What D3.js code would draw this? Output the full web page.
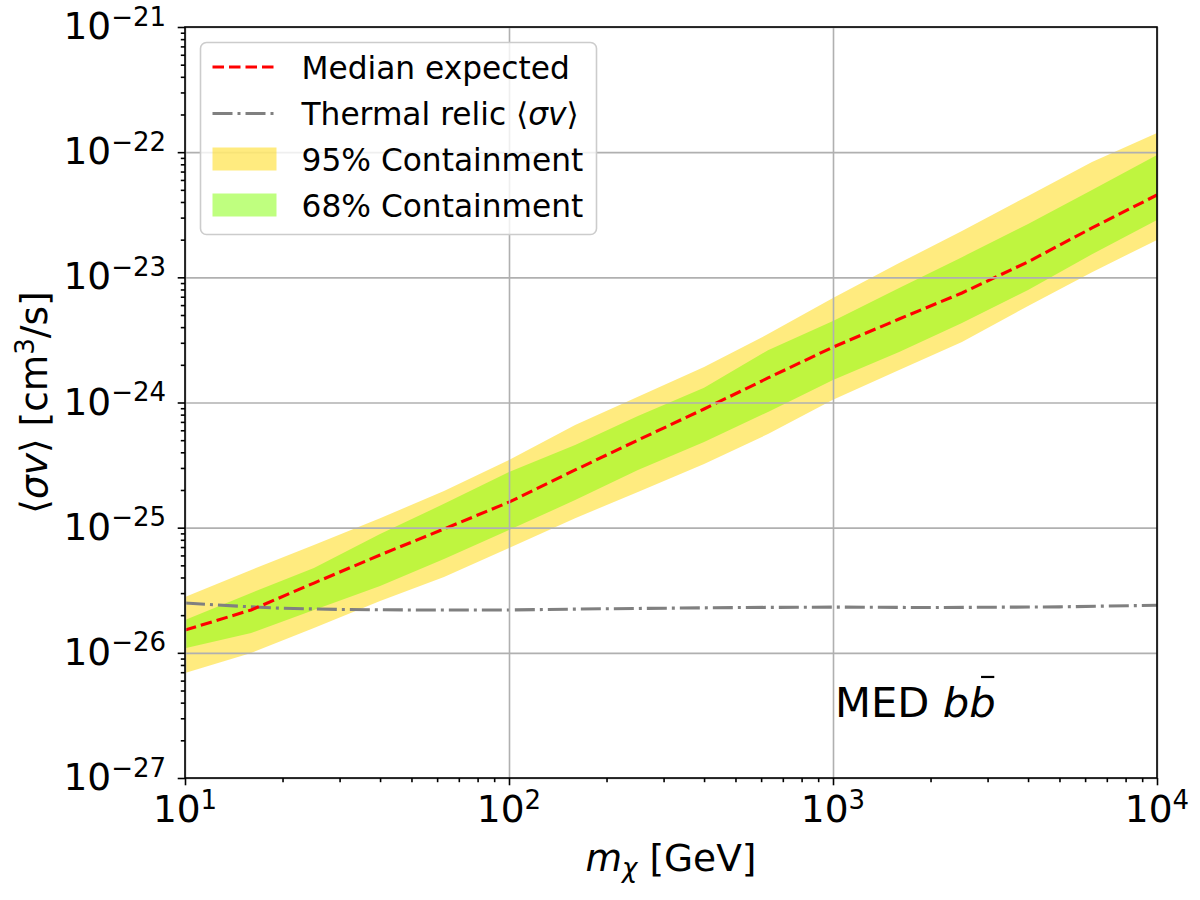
<!DOCTYPE html>
<html>
<head>
<meta charset="utf-8">
<script src="https://cdn.jsdelivr.net/npm/d3@7"></script>
<style>
  body { margin: 0; background: #fff; }
  text { font-family: "DejaVu Sans", sans-serif; }
</style>
</head>
<body>
<div id="chart"></div>
<script>
// ---- data ----
var massGrid = [10, 16, 25, 40, 63, 100, 160, 250, 400, 630, 1000, 1600, 2500, 4000, 6300, 10000];
var median   = [1.52e-26, 2.20e-26, 3.61e-26, 6.05e-26, 9.76e-26, 1.60e-25, 2.89e-25, 5.01e-25, 8.87e-25, 1.57e-24, 2.77e-24, 4.65e-24, 7.50e-24, 1.33e-23, 2.48e-23, 4.55e-23];
var hi95     = [2.79e-26, 4.59e-26, 7.28e-26, 1.19e-25, 1.96e-25, 3.47e-25, 6.61e-25, 1.11e-24, 1.92e-24, 3.52e-24, 6.84e-24, 1.30e-23, 2.34e-23, 4.47e-23, 8.34e-23, 1.42e-22];
var hi68     = [1.83e-26, 3.01e-26, 4.76e-26, 8.91e-26, 1.55e-25, 2.79e-25, 4.58e-25, 7.80e-25, 1.31e-24, 2.62e-24, 4.48e-24, 8.22e-24, 1.45e-23, 2.67e-23, 4.99e-23, 9.48e-23];
var lo68     = [1.09e-26, 1.44e-26, 2.20e-26, 3.42e-26, 5.62e-26, 9.58e-26, 1.66e-25, 2.89e-25, 4.84e-25, 8.40e-25, 1.51e-24, 2.53e-24, 4.32e-24, 7.92e-24, 1.53e-23, 2.87e-23];
var lo95     = [6.90e-27, 9.97e-27, 1.58e-26, 2.60e-26, 4.04e-26, 6.89e-26, 1.19e-25, 1.93e-25, 3.23e-25, 5.60e-25, 1.05e-24, 1.82e-24, 3.04e-24, 5.90e-24, 1.10e-23, 1.99e-23];

var thermalMass = [10, 15, 20, 30, 50, 100, 200, 500, 1000, 2000, 5000, 10000];
var thermalSv   = [2.50e-26, 2.35e-26, 2.27e-26, 2.22e-26, 2.20e-26, 2.20e-26, 2.25e-26, 2.30e-26, 2.32e-26, 2.30e-26, 2.33e-26, 2.40e-26];

var xTicks = [10, 100, 1000, 10000];
var xTickExp = ["1", "2", "3", "4"];
var yTicks = [1e-27, 1e-26, 1e-25, 1e-24, 1e-23, 1e-22, 1e-21];
var yTickExp = ["\u221227", "\u221226", "\u221225", "\u221224", "\u221223", "\u221222", "\u221221"];

var legendLabels = ["Median expected", "Thermal relic", "95% Containment", "68% Containment"];

// ---- layout ----
var margin = { left: 185, right: 43, top: 27, bottom: 122 };
var width = 1200 - margin.left - margin.right,
    height = 900 - margin.top - margin.bottom;
var tickFont = 37.5, supFont = 26, labelFont = 37.5;

var svgRoot = d3.select("#chart").append("svg")
    .attr("width", 1200)
    .attr("height", 900);
var svg = svgRoot.append("g")
    .attr("transform", "translate(" + margin.left + "," + margin.top + ")");

var x = d3.scaleLog().domain([10, 1e4]).range([0, width]);
var y = d3.scaleLog().domain([1e-27, 1e-21]).range([height, 0]);

var yellow = "#FFD700", green = "#7FFF00";

svg.append("clipPath").attr("id", "clip")
  .append("rect").attr("width", width).attr("height", height);

var rows = massGrid.map(function(m, i){
    return { m: m, med: median[i], lo68: lo68[i], hi68: hi68[i], lo95: lo95[i], hi95: hi95[i] };
});

var plot = svg.append("g").attr("clip-path", "url(#clip)");

// containment bands
plot.append("path")
    .datum(rows)
    .attr("fill", yellow).attr("fill-opacity", 0.5)
    .attr("d", d3.area().x(function(d){ return x(d.m); })
        .y0(function(d){ return y(d.lo95); })
        .y1(function(d){ return y(d.hi95); }));
plot.append("path")
    .datum(rows)
    .attr("fill", green).attr("fill-opacity", 0.5)
    .attr("d", d3.area().x(function(d){ return x(d.m); })
        .y0(function(d){ return y(d.lo68); })
        .y1(function(d){ return y(d.hi68); }));

// minor tick positions
var xMinor = [], yMinor = [];
[10, 100, 1000].forEach(function(d){ for (var k = 2; k < 10; k++) xMinor.push(d * k); });
yTicks.slice(0, -1).forEach(function(d){ for (var k = 2; k < 10; k++) yMinor.push(d * k); });

// grid
var gridX = svg.append("g")
    .attr("transform", "translate(0," + height + ")")
    .call(d3.axisBottom(x).tickValues(xTicks).tickSize(-height).tickFormat(""));
var gridY = svg.append("g")
    .call(d3.axisLeft(y).tickValues(yTicks).tickSize(-width).tickFormat(""));
[gridX, gridY].forEach(function(g){
    g.select(".domain").remove();
    g.selectAll("line").attr("stroke", "#b0b0b0").attr("stroke-width", 1.6);
});

// lines
plot.append("path")
    .datum(thermalMass.map(function(m, i){ return [m, thermalSv[i]]; }))
    .attr("fill", "none")
    .attr("stroke", "#808080")
    .attr("stroke-width", 3.1)
    .attr("stroke-dasharray", "20,5,3,5")
    .attr("d", d3.line().x(function(d){ return x(d[0]); }).y(function(d){ return y(d[1]); }));

plot.append("path")
    .datum(rows)
    .attr("fill", "none")
    .attr("stroke", "#ff0000")
    .attr("stroke-width", 3.1)
    .attr("stroke-dasharray", "11.5,5")
    .attr("d", d3.line().x(function(d){ return x(d.m); }).y(function(d){ return y(d.med); }));

// axes ticks
function tickAxis(axis, vals, size, transform){
    var g = svg.append("g").attr("transform", transform || null)
        .call(axis.tickValues(vals).tickSize(size).tickFormat(""));
    g.select(".domain").remove();
    g.selectAll("line").attr("stroke", "#000").attr("stroke-width", 1.6);
    return g;
}
tickAxis(d3.axisBottom(x), xTicks, 7.3, "translate(0," + height + ")");
tickAxis(d3.axisBottom(x), xMinor, 4.2, "translate(0," + height + ")");
tickAxis(d3.axisLeft(y), yTicks, 7.3);
tickAxis(d3.axisLeft(y), yMinor, 4.2);

// spines
svg.append("rect")
    .attr("width", width).attr("height", height)
    .attr("fill", "none").attr("stroke", "#000").attr("stroke-width", 1.6);

// tick labels
xTicks.forEach(function(v, i){
    var t = svg.append("text")
        .attr("x", x(v)).attr("y", height + 44)
        .attr("text-anchor", "middle")
        .attr("font-size", tickFont);
    t.append("tspan").text("10");
    t.append("tspan").attr("dy", -13).attr("font-size", supFont).text(xTickExp[i]);
});
yTicks.forEach(function(v, i){
    var t = svg.append("text")
        .attr("x", -19).attr("y", y(v) + 12)
        .attr("text-anchor", "end")
        .attr("font-size", tickFont);
    t.append("tspan").text("10");
    t.append("tspan").attr("dy", -13.5).attr("font-size", supFont).text(yTickExp[i]);
});

// axis labels
var xLabel = svg.append("text")
    .attr("x", width / 2).attr("y", height + 93)
    .attr("text-anchor", "middle")
    .attr("font-size", labelFont);
xLabel.append("tspan").attr("font-style", "italic").text("m");
xLabel.append("tspan").attr("font-style", "italic").attr("font-size", supFont).attr("dy", 6).text("\u03c7");
xLabel.append("tspan").attr("dy", -6).text(" [GeV]");

var yLabel = svg.append("text")
    .attr("transform", "translate(" + (47 - margin.left) + "," + (height / 2) + ") rotate(-90)")
    .attr("text-anchor", "middle")
    .attr("font-size", labelFont);
yLabel.append("tspan").text("\u27e8");
yLabel.append("tspan").attr("font-style", "italic").text("\u03c3v");
yLabel.append("tspan").text("\u27e9 [cm");
yLabel.append("tspan").attr("dy", -13).attr("font-size", supFont).text("3");
yLabel.append("tspan").attr("dy", 13).text("/s]");

// MED b bbar annotation
var medX = x(1000) + 2, medY = 717 - margin.top, medSize = 41.7;
var med = svg.append("text")
    .attr("x", medX).attr("y", medY)
    .attr("font-size", medSize);
med.append("tspan").text("MED ");
med.append("tspan").attr("font-style", "italic").text("bb");
var fullLen = med.node().getComputedTextLength();
var bLen = medSize * 0.635;
svg.append("line")
    .attr("x1", medX + fullLen - bLen * 0.55).attr("x2", medX + fullLen - bLen * 0.05)
    .attr("y1", medY - medSize * 0.96).attr("y2", medY - medSize * 0.96)
    .attr("stroke", "#000").attr("stroke-width", 2.2);

// legend
var legend = svgRoot.append("g").attr("transform", "translate(200.5,42.5)");
legend.append("rect")
    .attr("width", 396).attr("height", 192).attr("rx", 6)
    .attr("fill", "#fff").attr("fill-opacity", 0.8)
    .attr("stroke", "#cccccc").attr("stroke-width", 1.6);

var rowY = [24.5, 71, 116.5, 162.5];
legend.append("line")
    .attr("x1", 12).attr("x2", 76).attr("y1", rowY[0]).attr("y2", rowY[0])
    .attr("stroke", "#ff0000").attr("stroke-width", 3.1).attr("stroke-dasharray", "11.5,5");
legend.append("line")
    .attr("x1", 12).attr("x2", 76).attr("y1", rowY[1]).attr("y2", rowY[1])
    .attr("stroke", "#808080").attr("stroke-width", 3.1).attr("stroke-dasharray", "20,5,3,5");
legend.append("rect")
    .attr("x", 12).attr("y", rowY[2] - 11.5).attr("width", 64).attr("height", 23)
    .attr("fill", yellow).attr("fill-opacity", 0.5);
legend.append("rect")
    .attr("x", 12).attr("y", rowY[3] - 11.5).attr("width", 64).attr("height", 23)
    .attr("fill", green).attr("fill-opacity", 0.5);

legendLabels.forEach(function(lbl, i){
    var t = legend.append("text")
        .attr("x", 101).attr("y", rowY[i] + 11.5)
        .attr("font-size", 31.25)
        .text(lbl);
    if (i == 1) {
        t.append("tspan").text(" \u27e8");
        t.append("tspan").attr("font-style", "italic").text("\u03c3v");
        t.append("tspan").text("\u27e9");
    }
});
</script>
</body>
</html>
